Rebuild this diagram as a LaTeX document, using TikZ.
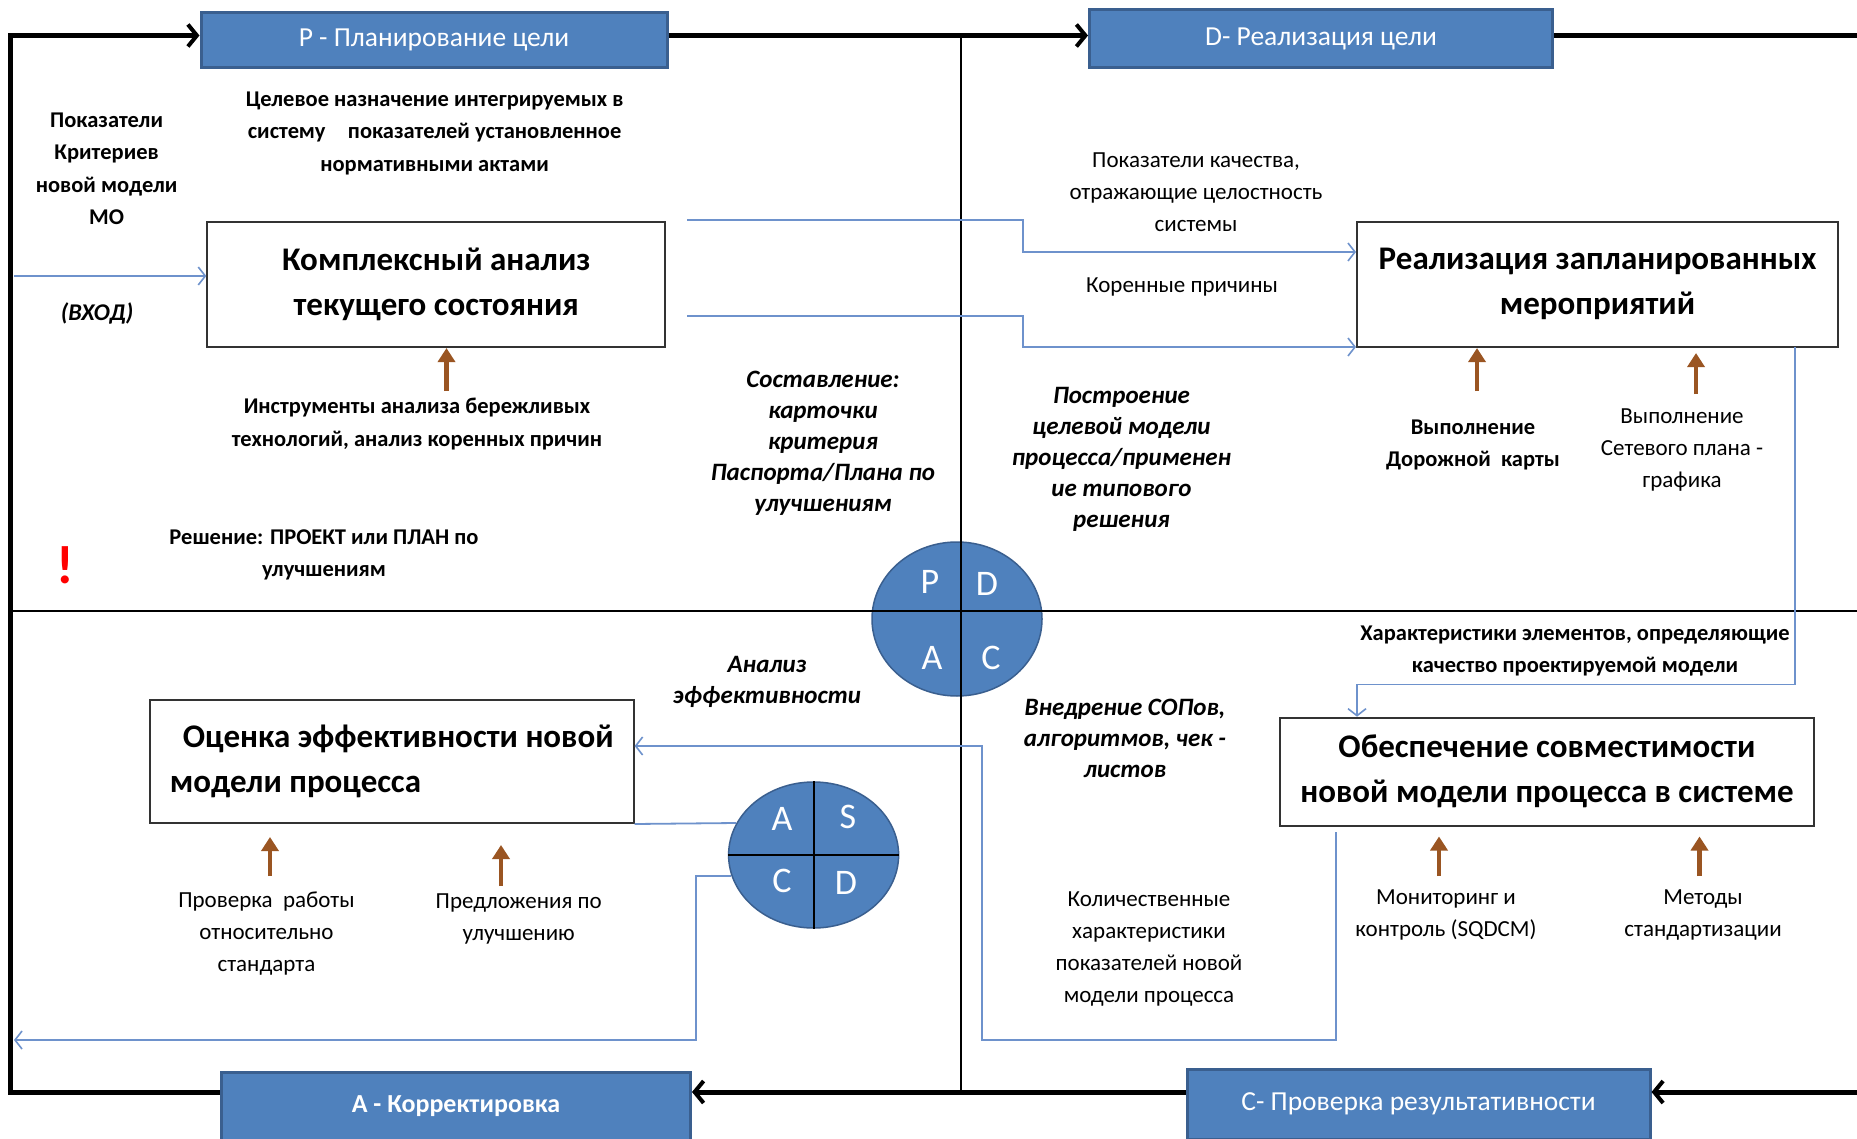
\documentclass[tikz,border=0pt]{standalone}
\usepackage{fontspec}
\setmainfont{Carlito}
\usetikzlibrary{arrows.meta,shapes.geometric,calc}
\definecolor{pblue}{HTML}{4F81BD}
\definecolor{pborder}{HTML}{3A5F8F}
\definecolor{lblue}{HTML}{6E92CC}
\definecolor{brn}{HTML}{9A5522}
\newcommand{\myfN}{\fontsize{23}{32}\selectfont}
\newcommand{\myfB}{\fontsize{22.5}{32.5}\selectfont\bfseries}
\newcommand{\myfBI}{\fontsize{25}{31}\selectfont\bfseries\itshape}
\newcommand{\myfT}{\fontsize{33}{45}\selectfont\bfseries}
\newcommand{\myfL}{\fontsize{27.5}{30}\selectfont}
\begin{document}
\begin{tikzpicture}[x=1pt,y=-1pt,
  bluebox/.style={draw=pborder, fill=pblue, line width=3pt, text=white, font=\myfL, inner sep=0pt},
  wbox/.style={draw=black!80, line width=2pt, fill=white, align=center, font=\myfT, inner sep=0pt},
  conn/.style={draw=lblue, line width=1.8pt, -{Straight Barb[length=7pt,width=18pt,line width=1.6pt]}},
  plainconn/.style={draw=lblue, line width=1.8pt},
  loopline/.style={line width=5pt},
  loopar/.style={line width=5pt, -{Straight Barb[length=9pt,width=22pt,line width=4pt]}},
  midline/.style={line width=2pt},
  brarrow/.style={draw=brn, line width=4.5pt, -{Triangle[length=14pt,width=17pt]}},
  tN/.style={align=center, font=\myfN, inner sep=0pt},
  tB/.style={align=center, font=\myfB, inner sep=0pt},
  tBI/.style={align=center, font=\myfBI, inner sep=0pt},
  circ/.style={ellipse, draw=pborder, fill=pblue, line width=1.5pt, inner sep=0pt},
  letter/.style={text=white, font=\fontsize{36}{36}\selectfont, inner sep=0pt}
]
\useasboundingbox (0,0) rectangle (1857,1139);
\fill[white] (0,0) rectangle (1857,1139);

% circles
\node[circ, minimum width=170pt, minimum height=154pt] (pdca) at (957,619) {};
\node[circ, minimum width=170pt, minimum height=146pt] (ascd) at (813.6,855) {};

% mid lines
\coordinate (MT) at (960.5,35.5);
\coordinate (MB) at (960.5,1092);
\coordinate (ML) at (10,611);
\coordinate (MR) at (1857,611);
\draw[midline] (MT) -- (MB);
\draw[midline] (ML) -- (MR);
\draw[midline] (ascd.north) -- (ascd.south);
\draw[midline] (ascd.west) -- (ascd.east);

% letters
\node[letter] (lP) at (930,582) {P};
\node[letter] (lD) at (987,584) {D};
\node[letter] (lA) at (932,658) {A};
\node[letter] (lC) at (991,658) {C};
\node[letter] (sA) at (782,819) {A};
\node[letter] (sS) at (848,817) {S};
\node[letter] (sC) at (782,881) {C};
\node[letter] (sD) at (846,883) {D};

% blue phase boxes
\node[bluebox, minimum width=466pt, minimum height=55pt] (P) at (434,40) {P - Планирование цели};
\node[bluebox, minimum width=463pt, minimum height=58pt] (D) at (1321,38.5) {D- Реализация цели};
\node[bluebox, minimum width=469pt, minimum height=68pt, font=\fontsize{26}{30}\selectfont\bfseries] (A) at (456,1106) {A - Корректировка};
\node[bluebox, minimum width=463pt, minimum height=70pt] (C) at (1418.5,1104) {C- Проверка результативности};

% main loop
\coordinate (TL) at (10,35.5);
\coordinate (BL) at (10,1092);
\coordinate (TR) at (1857,35.5);
\coordinate (BR) at (1857,1092);
\draw[loopar] (BR) -- (BR -| C.east);
\draw[loopar] (BR -| C.west) -- (BR -| A.east);
\draw[loopar] (BR -| A.west) -- (BL) -- (TL) -- (TL -| P.west);
\draw[loopar] (TL -| P.east) -- (TL -| D.west);
\draw[loopline] (TL -| D.east) -- (TR);

% white boxes
\node[wbox, minimum width=458pt, minimum height=125.5pt] (KA) at (436.3,284.3) {Комплексный анализ\\текущего состояния};
\node[wbox, minimum width=481pt, minimum height=125.5pt] (RZ) at (1597.5,284.3) {Реализация запланированных\\мероприятий};
\node[wbox, minimum width=483.6pt, minimum height=123pt, align=left] (OE) at (391.8,761.5) {\hspace*{13pt}Оценка эффективности новой\\модели процесса};
\node[wbox, minimum width=534pt, minimum height=107.8pt] (OS) at (1547,771.6) {Обеспечение совместимости\\новой модели процесса в системе};

% blue connectors
\coordinate (in1) at (14,276);
\draw[conn] (in1) -- (in1 -| KA.west);
\coordinate (k1) at (687,220);
\coordinate (k1b) at (1023,252);
\draw[conn] (k1) -| (k1b) -- (k1b -| RZ.west);
\coordinate (k2) at (687,316);
\coordinate (k2b) at (1023,347);
\draw[conn] (k2) -| (k2b) -- (k2b -| RZ.west);
\coordinate (r1) at (1795,347);
\coordinate (r2) at (1357,684.5);
\draw[conn] (r1) |- (r2) -- (r2 |- OS.north);
\coordinate (o1) at (1336,832);
\coordinate (o2) at (982,1040);
\coordinate (o3) at (982,746);
\draw[conn] (o1) |- (o2) |- (OE.east |- o3);
\coordinate (a1) at (736,823);
\draw[plainconn] (OE.south east) -- (a1);
\coordinate (a2) at (731,876);
\coordinate (a3) at (696,1040);
\coordinate (a4) at (14,1040);
\draw[conn] (a2) -| (a3) -- (a4);

% brown arrows
\coordinate (b1) at (446.5,391);
\draw[brarrow] (b1) -- (b1 |- KA.south);
\coordinate (b2) at (1477,391);
\draw[brarrow] (b2) -- (b2 |- RZ.south);
\coordinate (b3) at (1696,394);
\draw[brarrow, shorten >=5pt] (b3) -- (b3 |- RZ.south);
\coordinate (b4) at (270,876);
\draw[brarrow, shorten >=13pt] (b4) -- (b4 |- OE.south);
\coordinate (b5) at (501,886);
\draw[brarrow, shorten >=21pt] (b5) -- (b5 |- OE.south);
\coordinate (b6) at (1439,876);
\draw[brarrow, shorten >=10pt] (b6) -- (b6 |- OS.south);
\coordinate (b7) at (1699.5,876);
\draw[brarrow, shorten >=10pt] (b7) -- (b7 |- OS.south);

% texts
\node[tB] (crit) at (106.6,169) {Показатели\\Критериев\\новой модели\\МО};
\node[tBI, font=\fontsize{24}{28}\selectfont\bfseries\itshape] (vhod) at (97,313) {(ВХОД)};
\node[tB] (goal) at (434.6,133) {Целевое назначение интегрируемых в\\систему\quad показателей установленное\\нормативными актами};
\node[tB] (tools) at (417,424) {Инструменты анализа бережливых\\технологий, анализ коренных причин};
\node[tB] (decision) at (324,555) {Решение: ПРОЕКТ или ПЛАН по\\улучшениям};
\node[text=red, font=\fontsize{54}{54}\selectfont\bfseries, inner sep=0pt] (excl) at (65,565) {!};
\node[tBI] (compose) at (823,443.5) {Составление:\\карточки\\критерия\\Паспорта/Плана по\\улучшениям};
\node[tBI] (build) at (1121.5,459) {Построение\\целевой модели\\процесса/применен\\ие типового\\решения};
\node[tN] (quality) at (1196,192.5) {Показатели качества,\\отражающие целостность\\системы};
\node[tN] (roots) at (1182,286.6) {Коренные причины};
\node[tB] (roadmap) at (1473,445) {Выполнение\\Дорожной\ \ карты};
\node[tN] (network) at (1682,450) {Выполнение\\Сетевого плана -\\графика};
\node[tB] (charact) at (1575,651) {Характеристики элементов, определяющие\\качество проектируемой модели};
\node[tBI] (analysis) at (767,682) {Анализ\\эффективности};
\node[tBI] (sop) at (1125,738) {Внедрение СОПов,\\алгоритмов, чек -\\листов};
\node[tN] (quant) at (1149,948.5) {Количественные\\характеристики\\показателей новой\\модели процесса};
\node[tN] (monitor) at (1446,914.5) {Мониторинг и\\контроль (SQDCM)};
\node[tN] (methods) at (1703,914.5) {Методы\\стандартизации};
\node[tN] (check) at (266.5,933.5) {Проверка\ \ работы\\относительно\\стандарта};
\node[tN] (propose) at (518.7,919) {Предложения по\\улучшению};
\end{tikzpicture}
\end{document}
